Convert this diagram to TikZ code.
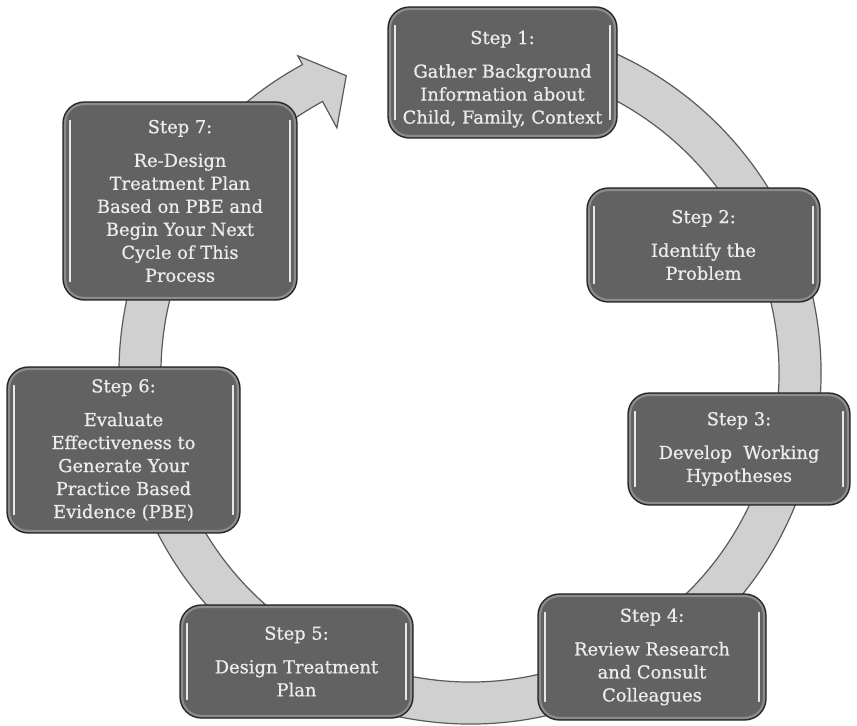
\documentclass[tikz,border=0pt]{standalone}
\usepackage{fontspec}
\setmainfont{DejaVu Serif}
\newfontfamily\boxfont{DejaVu Serif}[FakeBold=0.7]
\usetikzlibrary{calc}
\definecolor{boxfill}{RGB}{98,98,98}
\definecolor{boxline}{RGB}{40,40,40}
\definecolor{boxrim}{RGB}{140,140,140}
\definecolor{boxtext}{RGB}{236,236,236}
\definecolor{ringfill}{RGB}{208,208,208}
\definecolor{ringline}{RGB}{90,90,90}
\tikzset{
  stepbox/.style={draw=boxline, line width=1pt, fill=boxfill, rounded corners=16pt,
    inner sep=0pt, align=center, text=boxtext,
    font=\boxfont\fontsize{13.4pt}{17.25pt}\selectfont,
    path picture={
      \draw[boxrim, line width=1.6pt, rounded corners=14pt]
        ([shift={(1.6pt,1.6pt)}]path picture bounding box.south west) rectangle
        ([shift={(-1.6pt,-1.6pt)}]path picture bounding box.north east);
      \draw[white, line width=1.3pt, line cap=round, opacity=0.85]
        ([shift={(5pt,-14pt)}]path picture bounding box.north west) --
        ([shift={(5pt,14pt)}]path picture bounding box.south west);
      \draw[white, line width=1.3pt, line cap=round, opacity=0.85]
        ([shift={(-5pt,-14pt)}]path picture bounding box.north east) --
        ([shift={(-5pt,14pt)}]path picture bounding box.south east);
    }},
  ringstyle/.style={fill=ringfill, draw=ringline, line width=0.9pt, line join=miter}
}
\begin{document}
\begin{tikzpicture}[x=0.75pt,y=0.75pt]
\useasboundingbox (0,0) rectangle (857,725);
\fill[white] (0,0) rectangle (857,725);
\coordinate (c) at (470,352);
% ring with arrow head
\draw[ringstyle] ($(c)+(80:351)$) arc[start angle=80, end angle=-241.5, radius=351]
  -- ($(c)+(-241.5:361)$) -- ($(c)+(-247.4:322)$) -- ($(c)+(-241.5:279)$)
  -- ($(c)+(-241.5:309)$) arc[start angle=-241.5, end angle=80, radius=309] -- cycle;
% steps
\node[stepbox, minimum width=171.75pt, minimum height=98.25pt] (s1) at (502.5,652.5)
  {\rule{0pt}{20pt}Step 1:\\[8pt]Gather Background\\Information about\\Child, Family, Context};
\node[stepbox, minimum width=174.75pt, minimum height=85.5pt] (s2) at (703.5,480)
  {Step 2:\\[8pt]Identify the\\Problem};
\node[stepbox, minimum width=166.5pt, minimum height=84pt] (s3) at (739,276)
  {Step 3:\\[8pt]Develop\ \ Working\\Hypotheses};
\node[stepbox, minimum width=171pt, minimum height=94.5pt] (s4) at (652,68)
  {Step 4:\\[8pt]Review Research\\and Consult\\Colleagues};
\node[stepbox, minimum width=174.75pt, minimum height=84.75pt] (s5) at (296.5,63.5)
  {Step 5:\\[8pt]Design Treatment\\Plan};
\node[stepbox, minimum width=174.75pt, minimum height=124.5pt] (s6) at (123.5,275)
  {Step 6:\\[8pt]Evaluate\\Effectiveness to\\Generate Your\\Practice Based\\Evidence (PBE)};
\node[stepbox, minimum width=175.5pt, minimum height=148.5pt] (s7) at (180,524)
  {Step 7:\\[8pt]Re-Design\\Treatment Plan\\Based on PBE and\\Begin Your Next\\Cycle of This\\Process};
\end{tikzpicture}
\end{document}
